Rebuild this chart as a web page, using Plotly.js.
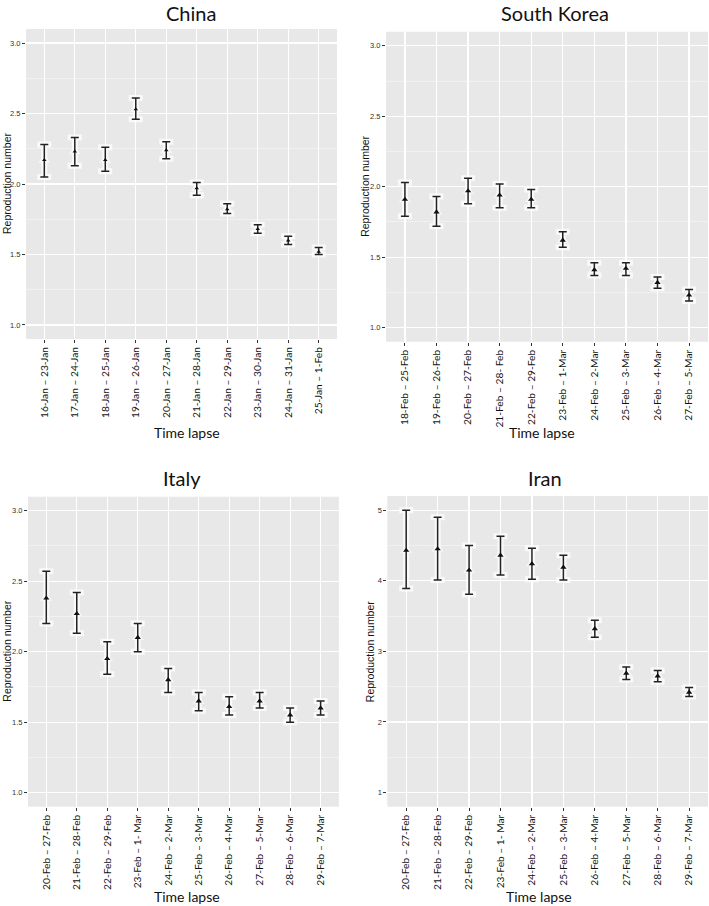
<!DOCTYPE html>
<html>
<head>
<meta charset="utf-8">
<script src="https://cdn.plot.ly/plotly-3.0.1.min.js"></script>
<style>
  html, body { margin: 0; padding: 0; background: #fff; }
  #chart { width: 709px; height: 906px; }
</style>
</head>
<body>
<div id="chart"></div>
<script>
// ---- data ----
var chinaLabels = ["16-Jan – 23-Jan", "17-Jan – 24-Jan", "18-Jan – 25-Jan", "19-Jan – 26-Jan", "20-Jan – 27-Jan",
                   "21-Jan – 28-Jan", "22-Jan – 29-Jan", "23-Jan – 30-Jan", "24-Jan – 31-Jan", "25-Jan – 1-Feb"];
var chinaR    = [2.17, 2.23, 2.17, 2.53, 2.24, 1.97, 1.82, 1.68, 1.60, 1.52];
var chinaLow  = [2.05, 2.13, 2.09, 2.46, 2.18, 1.92, 1.79, 1.65, 1.57, 1.50];
var chinaHigh = [2.28, 2.33, 2.26, 2.61, 2.30, 2.01, 1.86, 1.71, 1.63, 1.55];

var koreaLabels = ["18-Feb – 25-Feb", "19-Feb – 26-Feb", "20-Feb – 27-Feb", "21-Feb – 28- Feb", "22-Feb – 29-Feb",
                   "23-Feb – 1-Mar", "24-Feb – 2-Mar", "25-Feb – 3-Mar", "26-Feb – 4-Mar", "27-Feb – 5-Mar"];
var koreaR    = [1.91, 1.82, 1.97, 1.94, 1.91, 1.62, 1.41, 1.42, 1.32, 1.23];
var koreaLow  = [1.79, 1.72, 1.88, 1.85, 1.85, 1.57, 1.37, 1.37, 1.28, 1.19];
var koreaHigh = [2.03, 1.93, 2.06, 2.02, 1.98, 1.68, 1.46, 1.46, 1.36, 1.27];

var italyLabels = ["20-Feb – 27-Feb", "21-Feb – 28-Feb", "22-Feb – 29-Feb", "23-Feb – 1- Mar", "24-Feb – 2-Mar",
                   "25-Feb – 3-Mar", "26-Feb – 4-Mar", "27-Feb – 5-Mar", "28-Feb – 6-Mar", "29-Feb – 7-Mar"];
var italyR    = [2.38, 2.27, 1.95, 2.10, 1.80, 1.65, 1.61, 1.65, 1.55, 1.60];
var italyLow  = [2.20, 2.13, 1.84, 2.00, 1.71, 1.58, 1.55, 1.60, 1.50, 1.55];
var italyHigh = [2.57, 2.42, 2.07, 2.20, 1.88, 1.71, 1.68, 1.71, 1.60, 1.65];

var iranLabels = italyLabels.slice();
var iranR    = [4.43, 4.45, 4.15, 4.36, 4.24, 4.19, 3.32, 2.69, 2.65, 2.42];
var iranLow  = [3.89, 4.01, 3.81, 4.08, 4.02, 4.01, 3.20, 2.60, 2.57, 2.36];
var iranHigh = [5.00, 4.90, 4.50, 4.63, 4.46, 4.36, 3.44, 2.78, 2.73, 2.49];

// ---- panel geometry (paper fractions) ----
var panels = [
  { name: "China",       labels: chinaLabels, r: chinaR, lo: chinaLow, hi: chinaHigh,
    xd: [0.0367, 0.4753], yd: [0.6258, 0.9680], yr: [0.9, 3.1], dt: 0.5, fmt: ".1f",
    tx: 0.270, ty: 0.9855, ax: 0.264, ay: 0.523, yx: 0.0, yanc: "left" },
  { name: "South Korea", labels: koreaLabels, r: koreaR, lo: koreaLow, hi: koreaHigh,
    xd: [0.5444, 0.9986], yd: [0.6228, 0.9650], yr: [0.9, 3.1], dt: 0.5, fmt: ".1f",
    tx: 0.783, ty: 0.9855, ax: 0.764, ay: 0.523, yx: 0.515, yanc: "center" },
  { name: "Italy",       labels: italyLabels, r: italyR, lo: italyLow, hi: italyHigh,
    xd: [0.0395, 0.4780], yd: [0.1096, 0.4518], yr: [0.9, 3.1], dt: 0.5, fmt: ".1f",
    tx: 0.256, ty: 0.472, ax: 0.264, ay: 0.010, yx: 0.0, yanc: "left" },
  { name: "Iran",        labels: iranLabels,  r: iranR,  lo: iranLow,  hi: iranHigh,
    xd: [0.5463, 0.9986], yd: [0.1096, 0.4525], yr: [0.8, 5.2], dt: 1, fmt: "d",
    tx: 0.769, ty: 0.472, ax: 0.760, ay: 0.010, yx: 0.523, yanc: "center" }
];

var traces = [];
var layout = {
  width: 709, height: 906,
  margin: { l: 0, r: 0, t: 0, b: 0 },
  paper_bgcolor: "#ffffff",
  showlegend: false,
  annotations: [],
  shapes: []
};

panels.forEach(function (p, i) {
  var n = i === 0 ? "" : String(i + 1);
  var xa = "x" + n, ya = "y" + n;
  var plus = p.hi.map(function (v, k) { return v - p.r[k]; });
  var minus = p.r.map(function (v, k) { return v - p.lo[k]; });

  // soft white halo under the bars (as in the original export)
  traces.push({
    type: "scatter", mode: "markers", x: p.labels, y: p.r, xaxis: xa, yaxis: ya,
    marker: { size: 11, color: "rgba(255,255,255,0.55)", symbol: "triangle-up" },
    error_y: { type: "data", symmetric: false, array: plus, arrayminus: minus,
               color: "rgba(255,255,255,0.75)", thickness: 6, width: 7 },
    hoverinfo: "skip"
  });
  // estimate with interval
  traces.push({
    type: "scatter", mode: "markers", x: p.labels, y: p.r, xaxis: xa, yaxis: ya,
    marker: { size: i === 0 ? 4 : 5.5, color: "#111", symbol: "triangle-up" },
    error_y: { type: "data", symmetric: false, array: plus, arrayminus: minus,
               color: "#222", thickness: 1.5, width: 4 }
  });

  layout["xaxis" + n] = {
    domain: p.xd, anchor: ya, type: "category", range: [-0.6, 9.6],
    showgrid: true, gridcolor: "#ffffff", gridwidth: 1.2, zeroline: false,
    ticks: "outside", ticklen: 3, tickcolor: "#333", tickwidth: 1,
    tickangle: -90, tickfont: { family: "Lato, Carlito, sans-serif", size: 10.2, color: "#111" },
    showline: false, fixedrange: true
  };
  layout["yaxis" + n] = {
    domain: p.yd, anchor: xa, range: p.yr, dtick: p.dt, tick0: 0, tickformat: p.fmt,
    showgrid: true, gridcolor: "#ffffff", gridwidth: 1.2, zeroline: false,
    minor: { dtick: p.dt / 2, showgrid: true, gridcolor: "#f7f7f7", gridwidth: 0.6 },
    ticks: "outside", ticklen: 3, tickcolor: "#333", tickwidth: 1,
    tickfont: { family: "Arial, Liberation Sans, sans-serif", size: 7.5, color: "#333" },
    showline: false, fixedrange: true
  };
  layout.shapes.push({
    type: "rect", xref: "paper", yref: "paper", layer: "below",
    x0: p.xd[0], x1: p.xd[1], y0: p.yd[0], y1: p.yd[1],
    fillcolor: "#e8e8e8", line: { width: 0 }
  });

  layout.annotations.push(
    { text: p.name, xref: "paper", yref: "paper", x: p.tx, y: p.ty, showarrow: false,
      xanchor: "center", yanchor: "middle", font: { family: "Lato, Carlito, sans-serif", size: 20, color: "#111" } },
    { text: "Time lapse", xref: "paper", yref: "paper", x: p.ax, y: p.ay, showarrow: false,
      xanchor: "center", yanchor: "middle", font: { family: "Lato, Carlito, sans-serif", size: 14, color: "#111" } },
    { text: "Reproduction number", xref: "paper", yref: "paper", x: p.yx,
      y: (p.yd[0] + p.yd[1]) / 2, showarrow: false, textangle: -90, borderpad: 0,
      xanchor: p.yanc, yanchor: "middle", font: { family: "Arial, Liberation Sans, sans-serif", size: 10.5, color: "#111" } }
  );
});

Plotly.newPlot("chart", traces, layout, { displayModeBar: false, staticPlot: true });
</script>
</body>
</html>
